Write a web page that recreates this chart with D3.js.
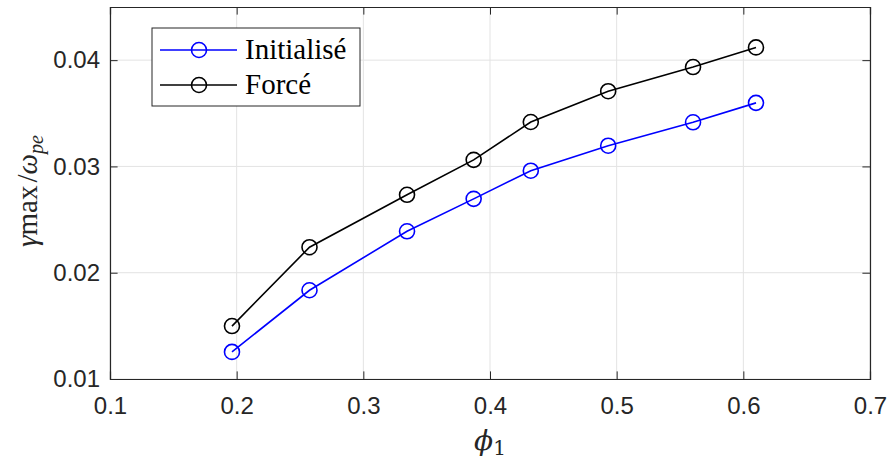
<!DOCTYPE html>
<html><head><meta charset="utf-8">
<script src="https://cdn.jsdelivr.net/npm/d3@7"></script>
<style>body{margin:0;background:#fff;} svg{display:block;}</style>
</head><body>
<svg id="chart" width="890" height="459"></svg>
<script>
const phi = [0.1963, 0.2575, 0.3345, 0.3871, 0.4322, 0.4933, 0.5603, 0.6100];
const initialise = [0.01255, 0.01835, 0.02390, 0.02695, 0.02960, 0.03195, 0.03415, 0.03598];
const force = [0.01498, 0.02240, 0.02733, 0.03062, 0.03418, 0.03708, 0.03935, 0.04120];
const seriesNames = ["Initialisé", "Forcé"];
const seriesColors = ["#0000ff", "#000000"];
const xTicks = [0.1, 0.2, 0.3, 0.4, 0.5, 0.6, 0.7];
const yTicks = [0.01, 0.02, 0.03, 0.04];

const svg = d3.select("#chart");
const L = 110, R = 870, T = 7, B = 379;
const x = d3.scaleLinear().domain([0.1, 0.7]).range([L, R]);
const y = d3.scaleLinear().domain([0.01, 0.045]).range([B, T]);
const axisColor = "#262626";

// grid
const g = svg.append("g");
g.selectAll(".gx").data(xTicks).enter().append("line")
  .attr("x1", d => x(d)).attr("x2", d => x(d)).attr("y1", T).attr("y2", B)
  .attr("stroke", "#e3e3e3").attr("stroke-width", 1);
g.selectAll(".gy").data(yTicks).enter().append("line")
  .attr("y1", d => y(d)).attr("y2", d => y(d)).attr("x1", L).attr("x2", R)
  .attr("stroke", "#e3e3e3").attr("stroke-width", 1);

// axes with inward ticks
const tl = 7.6;
const fmt = d3.format(".2f");
const ax = svg.append("g").attr("transform", `translate(0,${B})`)
  .call(d3.axisBottom(x).tickValues(xTicks).tickSize(-tl).tickPadding(18).tickFormat(d3.format(".1f")));
const axT = svg.append("g").attr("transform", `translate(0,${T})`)
  .call(d3.axisTop(x).tickValues(xTicks).tickSize(-tl).tickFormat(""));
const ay = svg.append("g").attr("transform", `translate(${L},0)`)
  .call(d3.axisLeft(y).tickValues(yTicks).tickSize(-tl).tickPadding(10).tickFormat(fmt));
const ayR = svg.append("g").attr("transform", `translate(${R},0)`)
  .call(d3.axisRight(y).tickValues(yTicks).tickSize(-tl).tickFormat(""));
[ax, axT, ay, ayR].forEach(a => {
  a.select(".domain").attr("stroke", axisColor).attr("stroke-width", 1.2);
  a.selectAll(".tick line").attr("stroke", axisColor).attr("stroke-width", 1);
  a.selectAll(".tick text").attr("fill", axisColor)
    .style("font-family", "'Liberation Sans', Arial, sans-serif").style("font-size", "24px");
});
ax.selectAll(".tick text").attr("dy", "0.71em");

// series
const data = [initialise, force];
const line = d3.line().x((d, i) => x(phi[i])).y(d => y(d));
data.forEach((vals, k) => {
  svg.append("path").datum(vals).attr("d", line)
    .attr("fill", "none").attr("stroke", seriesColors[k]).attr("stroke-width", 1.6);
  svg.selectAll(".m" + k).data(vals).enter().append("circle")
    .attr("cx", (d, i) => x(phi[i])).attr("cy", d => y(d)).attr("r", 7.5)
    .attr("fill", "none").attr("stroke", seriesColors[k]).attr("stroke-width", 1.6);
});

// legend
const lg = svg.append("g");
lg.append("rect").attr("x", 152).attr("y", 28).attr("width", 208).attr("height", 78)
  .attr("fill", "#fff").attr("stroke", axisColor).attr("stroke-width", 1);
seriesNames.forEach((name, k) => {
  const yy = 50 + k * 35;
  lg.append("line").attr("x1", 160).attr("x2", 237).attr("y1", yy).attr("y2", yy)
    .attr("stroke", seriesColors[k]).attr("stroke-width", 1.6);
  lg.append("circle").attr("cx", 199).attr("cy", yy).attr("r", 7.5)
    .attr("fill", "none").attr("stroke", seriesColors[k]).attr("stroke-width", 1.6);
  lg.append("text").attr("x", 245).attr("y", yy + 9).text(name)
    .style("font-family", "'Liberation Serif', 'DejaVu Serif', serif").style("font-size", "29px")
    .attr("fill", "#000");
});

// y label
const yl = svg.append("text").attr("transform", "translate(37,191) rotate(-90)")
  .attr("text-anchor", "middle")
  .style("font-family", "'Liberation Serif', 'DejaVu Serif', serif").style("font-size", "29px").attr("fill", axisColor);
yl.append("tspan").style("font-style", "italic").text("γ");
yl.append("tspan").text("max");
yl.append("tspan").attr("dx", 3).text("/");
yl.append("tspan").style("font-style", "italic").text("ω");
yl.append("tspan").style("font-style", "italic").style("font-size", "20px").attr("dy", 6).text("pe");

// x label
const xl = svg.append("text").attr("x", 490).attr("y", 450).attr("text-anchor", "middle")
  .style("font-family", "'DejaVu Serif', 'Liberation Serif', serif").style("font-size", "28px").attr("fill", axisColor);
xl.append("tspan").style("font-style", "italic").text("ϕ");
xl.append("tspan").style("font-size", "20px").attr("dy", 5).text("1");
</script>
</body></html>
